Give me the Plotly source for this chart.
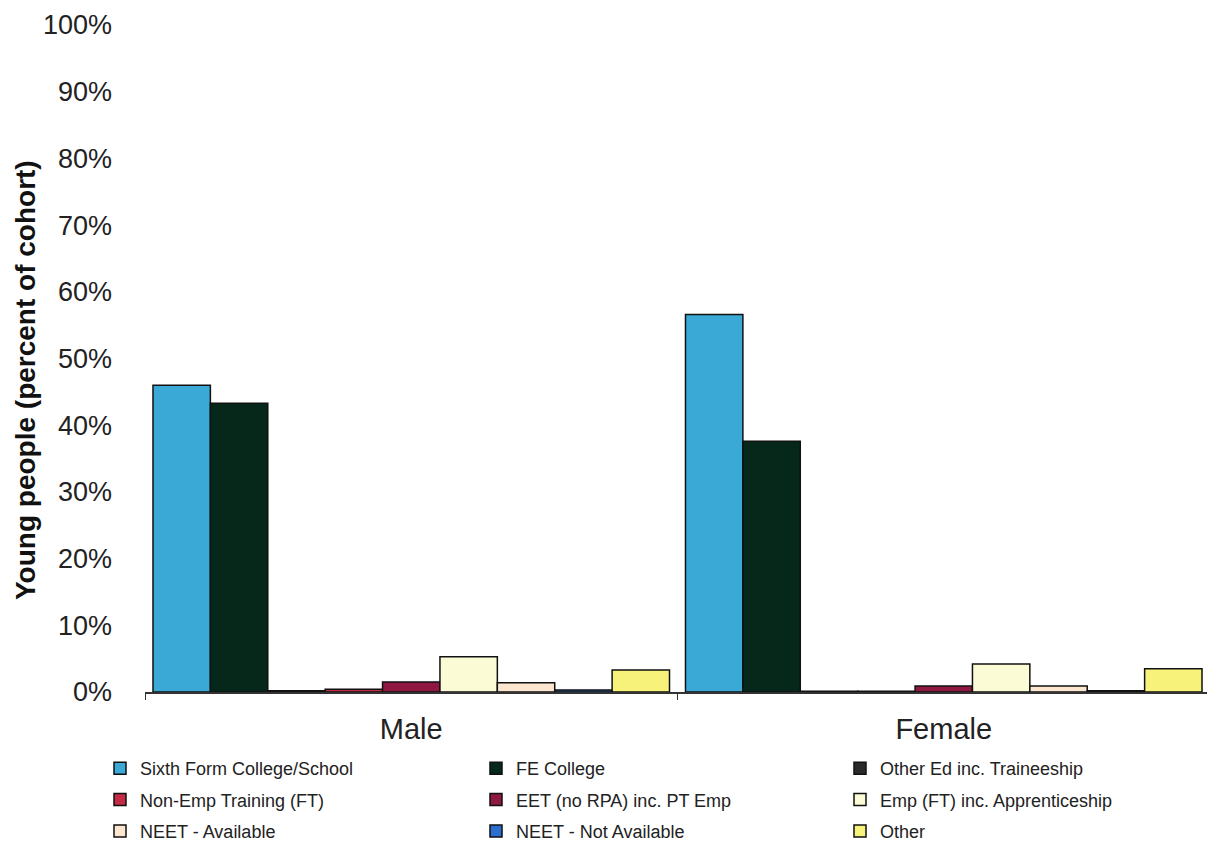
import plotly.graph_objects as go

categories = ["Male", "Female"]
series_names = [
    "Sixth Form College/School", "FE College", "Other Ed inc. Traineeship",
    "Non-Emp Training (FT)", "EET (no RPA) inc. PT Emp", "Emp (FT) inc. Apprenticeship",
    "NEET - Available", "NEET - Not Available", "Other",
]
sixth_form = [46.0, 56.6]
fe_college = [43.3, 37.6]
other_ed = [0.2, 0.1]
non_emp_training = [0.4, 0.1]
eet_no_rpa = [1.5, 0.9]
emp_ft = [5.3, 4.2]
neet_available = [1.4, 0.9]
neet_not_available = [0.3, 0.2]
other = [3.3, 3.5]
series_values = [sixth_form, fe_college, other_ed, non_emp_training, eet_no_rpa,
                 emp_ft, neet_available, neet_not_available, other]
colors = ["#3aa9d6", "#06281a", "#2a2a2a", "#c42a44", "#8e1842",
          "#fbfbd6", "#fde6cf", "#2a6fd0", "#f6f27a"]
tick_vals = [0, 10, 20, 30, 40, 50, 60, 70, 80, 90, 100]
tick_text = [f"{v}%" for v in tick_vals]
y_title = "Young people (percent of cohort)"

legend_ids = ["legend", "legend2", "legend3"]

W, H = 1207, 834  # page body margin of 8px in the browser
L, R, T, B = 137, 5, 17, 150

fig = go.Figure()
for i, (name, vals, col) in enumerate(zip(series_names, series_values, colors)):
    fig.add_trace(go.Bar(
        x=categories, y=vals, name=name,
        marker=dict(color=col, line=dict(color="#111111", width=1.5)),
        legend=legend_ids[i % 3], legendgroup=name,
    ))

font_family = "Liberation Sans, Arial, sans-serif"
leg_common = dict(
    orientation="v", yanchor="top", y=1 - 742 / H, yref="container",
    xanchor="left", xref="container",
    font=dict(family=font_family, size=18, color="#222222"),
    bgcolor="rgba(0,0,0,0)", traceorder="grouped", tracegroupgap=5,
    itemwidth=30,
)
fig.update_layout(
    width=W, height=H,
    margin=dict(l=L, r=R, t=T, b=B, autoexpand=False),
    paper_bgcolor="white", plot_bgcolor="white",
    barmode="group", bargap=0.03, bargroupgap=0,
    font=dict(family=font_family, color="#222222"),
    legend=dict(leg_common, x=(140 - 48) / W),
    legend2=dict(leg_common, x=(516 - 48) / W),
    legend3=dict(leg_common, x=(880 - 48) / W),
    showlegend=True,
)
plot_w = W - L - R
plot_h = H - T - B
fig.add_annotation(
    text=f"<b>{y_title}</b>", textangle=-90, showarrow=False,
    xref="paper", yref="paper",
    x=(17 - L) / plot_w, y=(H - B - 372) / plot_h,
    xanchor="center", yanchor="middle",
    font=dict(family=font_family, size=28, color="#111111"),
)
fig.update_xaxes(
    showline=True, linecolor="#333333", linewidth=1.5,
    ticks="outside", tickson="boundaries", ticklen=6, tickcolor="#333333",
    tickfont=dict(family=font_family, size=29, color="#222222"),
    ticklabelstandoff=10,
    showgrid=False,
)
fig.update_yaxes(
    range=[0, 100], tickvals=tick_vals, ticktext=tick_text,
    tickfont=dict(family=font_family, size=27, color="#222222"),
    ticklabelstandoff=32,
    showgrid=False, showline=False, zeroline=False, ticks="",
)
fig.write_html("out.html")
